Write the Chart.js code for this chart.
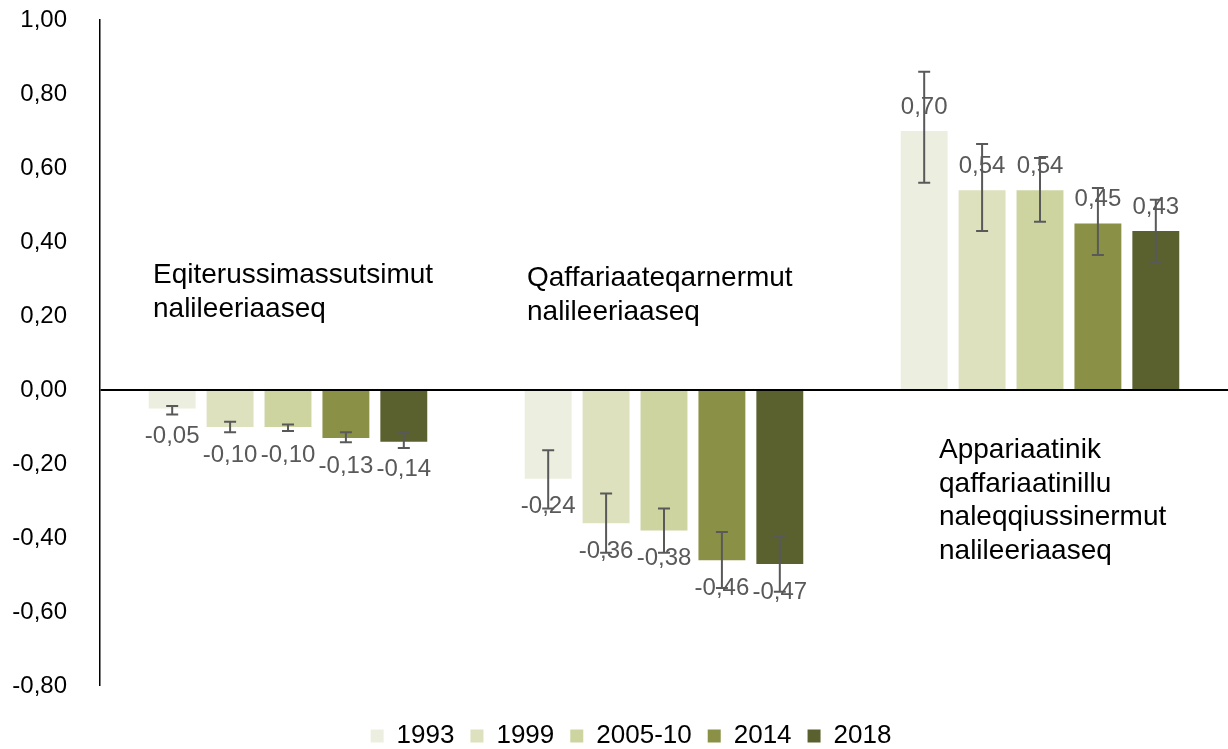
<!DOCTYPE html>
<html>
<head>
<meta charset="utf-8">
<script src="https://cdn.jsdelivr.net/npm/chart.js@4"></script>
<style>
  html, body { margin: 0; padding: 0; background: #fff; }
  #wrap { width: 1228px; height: 749px; position: relative; }
</style>
</head>
<body>
<div id="wrap"><canvas id="chart"></canvas></div>
<script>
/* Grouped bars with error bars, Chart.js */

const categories = ['Eqiterussimassutsimut nalileeriaaseq', 'Qaffariaateqarnermut nalileeriaaseq', 'Appariaatinik qaffariaatinillu naleqqiussinermut nalileeriaaseq'];
const seriesNames = ['1993', '1999', '2005-10', '2014', '2018'];

const values1993 = [-0.05, -0.24, 0.70];
const values1999 = [-0.10, -0.36, 0.54];
const values2005 = [-0.10, -0.38, 0.54];
const values2014 = [-0.13, -0.46, 0.45];
const values2018 = [-0.14, -0.47, 0.43];

// error bar bounds (low, high)
const errLow1993 = [-0.066, -0.32, 0.56];
const errHigh1993 = [-0.043, -0.163, 0.86];
const errLow1999 = [-0.114, -0.44, 0.43];
const errHigh1999 = [-0.086, -0.28, 0.665];
const errLow2005 = [-0.111, -0.44, 0.455];
const errHigh2005 = [-0.093, -0.32, 0.627];
const errLow2014 = [-0.141, -0.535, 0.365];
const errHigh2014 = [-0.114, -0.384, 0.546];
const errLow2018 = [-0.157, -0.545, 0.344];
const errHigh2018 = [-0.115, -0.395, 0.514];

const yTicks = [-0.8, -0.6, -0.4, -0.2, 0, 0.2, 0.4, 0.6, 0.8, 1.0];

const categoryLines = [
  ['Eqiterussimassutsimut', 'nalileeriaaseq'],
  ['Qaffariaateqarnermut', 'nalileeriaaseq'],
  ['Appariaatinik', 'qaffariaatinillu', 'naleqqiussinermut', 'nalileeriaaseq'],
];

const colors = ['#ECEFDF', '#DDE1BD', '#CDD4A0', '#8A9045', '#5A612F'];
const allValues = [values1993, values1999, values2005, values2014, values2018];
const allLow = [errLow1993, errLow1999, errLow2005, errLow2014, errLow2018];
const allHigh = [errHigh1993, errHigh1999, errHigh2005, errHigh2014, errHigh2018];

const FONT = "'Liberation Sans', Arial, sans-serif";

function fmt(v) {
  return v.toFixed(2).replace('.', ',');
}

const barExtras = {
  id: 'barExtras',
  afterLayout(chart) {
    // legend sits a bit right of centre in the original
    if (chart.legend) {
      chart.legend.left += 17;
      chart.legend.right += 17;
    }
  },
  afterDatasetsDraw(chart) {
    const ctx = chart.ctx;
    const y = chart.scales.y;
    ctx.save();
    // value labels
    ctx.font = '24px ' + FONT;
    ctx.fillStyle = '#595959';
    ctx.textAlign = 'center';
    ctx.textBaseline = 'middle';
    chart.data.datasets.forEach((ds, di) => {
      const meta = chart.getDatasetMeta(di);
      meta.data.forEach((bar, i) => {
        const v = ds.data[i];
        const ly = v >= 0 ? bar.y - 24 : bar.y + 28;
        ctx.fillText(fmt(v), bar.x, ly);
      });
    });
    // error bars
    ctx.strokeStyle = '#595959';
    ctx.lineWidth = 2;
    chart.data.datasets.forEach((ds, di) => {
      const meta = chart.getDatasetMeta(di);
      meta.data.forEach((bar, i) => {
        const y1 = y.getPixelForValue(allLow[di][i]);
        const y2 = y.getPixelForValue(allHigh[di][i]);
        const x = bar.x;
        ctx.beginPath();
        ctx.moveTo(x, y1); ctx.lineTo(x, y2);
        ctx.moveTo(x - 6, y1); ctx.lineTo(x + 6, y1);
        ctx.moveTo(x - 6, y2); ctx.lineTo(x + 6, y2);
        ctx.stroke();
      });
    });
    // category captions inside the plot
    const xs = chart.scales.x;
    const place = [
      { dx: -135, v: 0.289 },
      { dx: -137, v: 0.281 },
      { dx: -101, v: -0.184 },
    ];
    ctx.font = '28px ' + FONT;
    ctx.fillStyle = '#000';
    ctx.textAlign = 'left';
    ctx.textBaseline = 'alphabetic';
    categoryLines.forEach((lines, i) => {
      const x0 = xs.getPixelForValue(i) + place[i].dx;
      const y0 = y.getPixelForValue(place[i].v);
      lines.forEach((t, k) => ctx.fillText(t, x0, y0 + k * 33.5));
    });
    ctx.restore();
  }
};

function init() {
  const datasets = seriesNames.map((name, i) => ({
    label: name,
    data: allValues[i],
    backgroundColor: colors[i],
    borderWidth: 0,
  }));

  new Chart(document.getElementById('chart'), {
    type: 'bar',
    data: { labels: categories, datasets },
    options: {
      responsive: true,
      maintainAspectRatio: false,
      animation: false,
      layout: { padding: { top: 20, left: 0, right: 0, bottom: -10 } },
      datasets: { bar: { categoryPercentage: 0.77, barPercentage: 0.81 } },
      scales: {
        x: {
          display: true,
          grid: { display: false },
          border: { display: false },
          ticks: { display: false },
          afterFit(axis) { axis.height = 21; },
        },
        y: {
          min: -0.8,
          max: 1.0,
          afterBuildTicks(axis) {
            axis.ticks = yTicks.map(v => ({ value: v }));
          },
          afterFit(axis) {
            axis.width = 100;
            axis.paddingTop = 0;
            axis.paddingBottom = 0;
          },
          border: { display: true, color: '#000', width: 1.5 },
          grid: {
            drawTicks: false,
            color: c => (c.tick && Math.abs(c.tick.value) < 1e-9 ? '#000' : 'rgba(0,0,0,0)'),
            lineWidth: c => (c.tick && Math.abs(c.tick.value) < 1e-9 ? 2 : 0),
          },
          ticks: {
            color: '#000',
            padding: 33,
            font: { family: FONT, size: 24 },
            callback: v => fmt(v),
          },
        },
      },
      plugins: {
        legend: {
          position: 'bottom',
          labels: {
            boxWidth: 13,
            boxHeight: 13,
            padding: 16,
            color: '#000',
            font: { family: FONT, size: 26 },
          },
        },
        tooltip: { enabled: false },
      },
    },
    plugins: [barExtras],
  });
}

document.addEventListener('DOMContentLoaded', init);
</script>
</body>
</html>
